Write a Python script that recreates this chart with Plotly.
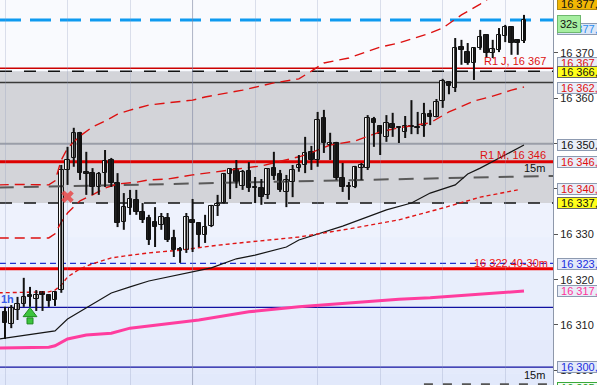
import plotly.graph_objects as go

# ---------------- data ----------------
opens = [16312.9, 16310.2, 16313.3, 16314.6, 16316.6, 16315.7, 16317.3, 16316.6, 16315.5, 16317.7,
         16344.2, 16346.85, 16352.4, 16343.7, 16343.5, 16340.45, 16343.5, 16346.4, 16341.3, 16332.7,
         16335.8, 16337.6, 16334.9, 16333.6, 16332.7, 16332.1, 16333.6, 16329.2, 16326.8, 16326.55,
         16333.2, 16332.5, 16329.9, 16331.8, 16336.3, 16336.9, 16343.3, 16344.4, 16340.7, 16344.0,
         16340.4, 16340.2, 16338.7, 16344.6, 16343.3, 16339.35, 16341.55, 16344.6, 16345.3, 16348.2,
         16346.4, 16355.7, 16349.7, 16350.15, 16342.4, 16340.55, 16340.45, 16344.6, 16344.6, 16355.45,
         16353.9, 16351.5, 16354.3, 16353.6, 16352.6, 16353.8, 16353.6, 16353.9, 16356.5, 16355.9,
         16359.4, 16363.6, 16362.3, 16371.3, 16370.2, 16367.8, 16371.1, 16374.0, 16370.0, 16370.7,
         16373.8, 16375.7, 16372.9, 16372.65]
highs = [16314.0, 16314.4, 16316.2, 16320.4, 16318.4, 16317.7, 16317.5, 16316.8, 16317.5, 16345.3,
         16349.3, 16353.5, 16352.6, 16348.2, 16344.6, 16343.75, 16348.6, 16346.85, 16343.5, 16339.1,
         16339.8, 16339.8, 16336.9, 16334.3, 16336.0, 16334.7, 16334.7, 16331.0, 16327.2, 16334.7,
         16337.8, 16332.7, 16334.3, 16336.5, 16338.7, 16343.5, 16344.6, 16346.4, 16344.2, 16345.96,
         16342.65, 16342.2, 16344.6, 16348.2, 16344.2, 16343.1, 16345.3, 16347.5, 16351.5, 16349.5,
         16357.0, 16357.45, 16352.4, 16350.4, 16345.75, 16341.55, 16345.1, 16345.75, 16356.3, 16355.9,
         16354.1, 16356.3, 16356.8, 16353.7, 16356.1, 16359.6, 16357.0, 16359.0, 16357.45, 16359.85,
         16364.3, 16363.8, 16373.3, 16372.9, 16372.2, 16371.2, 16375.1, 16374.1, 16372.9, 16375.5,
         16376.2, 16375.8, 16373.0, 16378.4]
lows = [16306.9, 16309.3, 16311.1, 16314.0, 16314.0, 16313.1, 16313.1, 16314.0, 16314.2, 16317.1,
        16340.9, 16344.9, 16342.0, 16338.7, 16338.7, 16338.7, 16340.45, 16340.45, 16331.6, 16331.0,
        16334.3, 16334.3, 16332.5, 16327.65, 16327.2, 16331.0, 16328.3, 16325.0, 16323.7, 16325.9,
        16326.1, 16327.2, 16328.1, 16331.6, 16334.05, 16336.8, 16337.8, 16340.2, 16339.8, 16339.35,
        16336.9, 16336.5, 16337.8, 16342.0, 16339.35, 16336.0, 16338.2, 16343.8, 16343.5, 16344.2,
        16344.9, 16347.95, 16346.4, 16342.0, 16339.35, 16337.6, 16340.2, 16342.0, 16344.2, 16349.3,
        16347.5, 16350.4, 16351.5, 16350.15, 16351.25, 16352.1, 16352.1, 16351.5, 16354.1, 16355.8,
        16357.9, 16360.9, 16361.4, 16367.4, 16367.4, 16364.05, 16370.7, 16368.9, 16368.9, 16370.2,
        16372.4, 16369.6, 16369.6, 16372.2]
closes = [16310.4, 16313.8, 16314.6, 16316.2, 16316.2, 16316.6, 16316.6, 16315.3, 16317.3, 16344.2,
          16346.4, 16352.4, 16343.5, 16343.3, 16340.45, 16343.3, 16346.2, 16341.3, 16332.5, 16336.0,
          16337.8, 16334.9, 16333.2, 16328.8, 16331.6, 16333.8, 16328.8, 16326.55, 16326.3, 16333.8,
          16332.5, 16329.9, 16331.6, 16336.3, 16336.7, 16343.3, 16344.4, 16341.55, 16343.75, 16340.2,
          16340.2, 16338.2, 16344.4, 16342.9, 16339.8, 16342.0, 16344.2, 16345.3, 16347.95, 16346.4,
          16355.2, 16350.15, 16350.15, 16342.4, 16340.45, 16340.35, 16344.9, 16345.3, 16355.7, 16354.6,
          16352.1, 16354.6, 16353.5, 16353.4, 16353.9, 16353.6, 16353.4, 16356.5, 16355.9, 16359.2,
          16363.8, 16362.7, 16371.1, 16370.7, 16367.8, 16371.1, 16373.5, 16370.0, 16370.9, 16374.0,
          16375.7, 16372.2, 16372.2, 16377.3]

# indicator curves (candle index, price)
upper_x = [-1, 2, 7, 8, 9, 10, 12, 14, 16, 18, 20, 23, 26, 30, 32, 38, 43, 47, 49, 51, 55, 60, 63, 68, 70, 73, 76, 78]
upper_y = [16340.9, 16341.0, 16340.9, 16341.8, 16346.4, 16349.0, 16351.7, 16353.7, 16355.0, 16356.5, 16357.4,
           16358.5, 16359.0, 16359.6, 16360.3, 16361.8, 16363.4, 16364.3, 16366.0, 16367.8, 16368.9, 16371.3,
           16372.2, 16374.4, 16375.5, 16378.4, 16380.8, 16382.6]
lower_x = [-1, 7, 8, 9, 10, 12, 14, 16, 18, 21, 23, 26, 30, 34, 36, 41, 47, 48, 52, 56, 60, 63, 68, 71, 75, 78, 81, 83]
lower_y = [16329.2, 16329.2, 16330.1, 16332.7, 16334.7, 16337.4, 16338.7, 16340.2, 16341.1, 16341.5, 16342.0,
           16342.2, 16343.1, 16343.8, 16344.2, 16345.1, 16347.1, 16347.5, 16349.7, 16350.6, 16352.6, 16353.5,
           16354.6, 16357.0, 16359.4, 16360.5, 16361.8, 16362.5]
mid_x = [-1, 7, 8, 9, 10, 12, 14, 17, 19, 23, 28, 34, 39, 45, 47, 55, 63, 70, 76, 82]
mid_y = [16317.1, 16317.3, 16317.7, 16318.8, 16320.6, 16322.4, 16323.5, 16324.8, 16325.2, 16325.9, 16326.5,
         16327.6, 16328.3, 16329.2, 16329.4, 16331.2, 16333.2, 16335.8, 16338.2, 16339.8]
ma_x = [-1, 8, 10, 13, 17, 20, 23, 33, 37, 40, 45, 47, 54, 61, 65, 68, 72, 74, 76, 83]
ma_y = [16306.9, 16308.7, 16311.3, 16313.75, 16317.06, 16318.4, 16319.7, 16322.6, 16324.6, 16325.4, 16327.2,
        16328.75, 16331.8, 16335.4, 16336.9, 16339.1, 16340.9, 16343.3, 16344.6, 16349.7]
pink_x = [-1, 7, 8, 10, 13, 17, 20, 23, 31, 39, 47, 55, 63, 68, 76, 83]
pink_y = [16304.9, 16305.1, 16305.4, 16306.9, 16307.8, 16308.2, 16309.3, 16309.8, 16311.1, 16312.9, 16314.0,
          16314.85, 16315.7, 16316.0, 16316.8, 16317.5]
trend15_x = [-1, 88]
trend15_y = [16340.3, 16342.9]

# horizontal levels
zone_top, zone_bottom = 16366.0, 16336.9
levels = [16377.3, 16366.65, 16366.0, 16363.5, 16350.0, 16346.0, 16336.9, 16323.6, 16322.4, 16313.9, 16300.7]
bottom_dash_level = 16296.9

# signals
cross_x, cross_y = [10], [16338.3]
arrow_x, arrow_head_y, arrow_stem_y = [4], [16312.5], [16310.9]

# right-side price labels
price_labels = [
    (16380.8, "16 377,50", "#111111", "#f2b705", "#b08a10"),
    (16375.3, "16 377,00", "#2b8ff0", "#dbe6f7", "#8d9ab0"),
    (16367.9, "16 367,00", "#e01010", "#e9eef8", "#8d9ab0"),
    (16365.7, "16 366,00", "#111111", "#ffff1a", "#666666"),
    (16362.3, "16 362,50", "#e01010", "#e9eef8", "#8d9ab0"),
    (16349.8, "16 350,00", "#111111", "#e9eef8", "#8d9ab0"),
    (16346.0, "16 346,00", "#e01010", "#e9eef8", "#8d9ab0"),
    (16339.9, "16 340,00", "#e01010", "#e9eef8", "#8d9ab0"),
    (16336.9, "16 337,00", "#111111", "#ffff1a", "#666666"),
    (16323.5, "16 323,60", "#1a2ee0", "#e3e9f8", "#8d9ab0"),
    (16317.4, "16 317,50", "#ff3399", "#e9eef8", "#8d9ab0"),
    (16300.7, "16 300,70", "#1a2ee0", "#e3e9f8", "#8d9ab0"),
    (16296.2, "16 295,00", "#1a9a1a", "#f2fbf2", "#3aaa3a"),
]
tick_vals = [16300, 16310, 16320, 16330, 16340, 16350, 16360, 16370]
tick_text = ["16 300", "16 310", "16 320", "16 330", "16 340", "16 350", "16 360", "16 370"]

# ---------------- figure ----------------
YMIN, YMAX = 16296.76, 16381.69
XMIN, XMAX = -0.8, 87.64
FONT = "Liberation Sans, Arial, sans-serif"

fig = go.Figure()

idx = list(range(len(opens)))
# indicator lines
fig.add_trace(go.Scatter(x=pink_x, y=pink_y, mode="lines",
                         line=dict(color="#ff3d9e", width=3)))
fig.add_trace(go.Scatter(x=trend15_x, y=trend15_y, mode="lines",
                         line=dict(color="#5a5a5a", width=2, dash="15px,10px")))
fig.add_trace(go.Scatter(x=ma_x, y=ma_y, mode="lines", line=dict(color="#151515", width=1.2)))
fig.add_trace(go.Scatter(x=mid_x, y=mid_y, mode="lines",
                         line=dict(color="#e01515", width=1.4, dash="4px,3px")))
fig.add_trace(go.Scatter(x=upper_x, y=upper_y, mode="lines",
                         line=dict(color="#dd1111", width=1.4, dash="10px,6px")))
fig.add_trace(go.Scatter(x=lower_x, y=lower_y, mode="lines",
                         line=dict(color="#dd1111", width=1.4, dash="10px,6px")))

# wicks
wx, wy = [], []
for i, (h, l) in enumerate(zip(highs, lows)):
    wx += [i, i, None]
    wy += [l, h, None]
fig.add_trace(go.Scatter(x=wx, y=wy, mode="lines", line=dict(color="#111111", width=2)))

# bodies
base = [min(o, c) for o, c in zip(opens, closes)]
height = [max(abs(c - o), 0.22) for o, c in zip(opens, closes)]
colors = ["#ffffff" if c >= o else "#222222" for o, c in zip(opens, closes)]
fig.add_trace(go.Bar(x=idx, y=height, base=base, width=0.72,
                     marker=dict(color=colors, line=dict(color="#111111", width=1))))

# signals
fig.add_trace(go.Scatter(x=cross_x, y=cross_y, mode="markers",
                         marker=dict(symbol="x", size=11, color="rgba(232,72,72,0.85)",
                                     line=dict(width=0))))
fig.add_trace(go.Scatter(x=arrow_x, y=arrow_stem_y, mode="markers",
                         marker=dict(symbol="square", size=6, color="#3dc43d",
                                     line=dict(color="#1e8a1e", width=1))))
fig.add_trace(go.Scatter(x=arrow_x, y=arrow_head_y, mode="markers",
                         marker=dict(symbol="triangle-up", size=12, color="#3dc43d",
                                     line=dict(color="#1e8a1e", width=1))))

shapes = []
# backgrounds
shapes.append(dict(type="rect", xref="paper", x0=0, x1=1, yref="y", y0=zone_top, y1=YMAX + 5,
                   fillcolor="#f9fafe", line=dict(width=0), layer="below"))
shapes.append(dict(type="rect", xref="paper", x0=0, x1=1, yref="y", y0=zone_bottom, y1=zone_top,
                   fillcolor="#d3d4d9", line=dict(width=0), layer="below"))
grad = ["#eef2fd", "#ebf0fd", "#e8eefc", "#e6ecfc", "#e4eafb", "#e2e9fb"]
step = (zone_bottom - (YMIN - 5)) / len(grad)
for k, col in enumerate(grad):
    shapes.append(dict(type="rect", xref="paper", x0=0, x1=1, yref="y",
                       y0=zone_bottom - step * (k + 1), y1=zone_bottom - step * k,
                       fillcolor=col, line=dict(width=0), layer="below"))

level_styles = [
    ("#0e9af0", 3, "21px,9px"),
    ("#cc0000", 1.5, "solid"),
    ("#111111", 1.5, "12px,12px"),
    ("#3a3a3a", 1.6, "solid"),
    ("#9a9ea8", 2, "solid"),
    ("#dd0000", 3, "solid"),
    ("#111111", 1.5, "12px,12px"),
    ("#2030d0", 1.2, "6px,4px"),
    ("#ee0000", 3, "solid"),
    ("#1010a0", 1.3, "solid"),
    ("#1010a0", 1.3, "solid"),
]
for lv, (col, w, d) in zip(levels, level_styles):
    shapes.append(dict(type="line", xref="paper", x0=0, x1=1, yref="y", y0=lv, y1=lv,
                       line=dict(color=col, width=w, dash=d), layer="between"))
shapes.append(dict(type="line", xref="x", x0=67, x1=XMAX, yref="y",
                   y0=bottom_dash_level, y1=bottom_dash_level,
                   line=dict(color="#555555", width=2, dash="9px,10px"), layer="between"))
shapes.append(dict(type="line", xref="x", x0=30, x1=30, yref="paper", y0=0, y1=1,
                   line=dict(color="rgba(120,125,145,0.45)", width=1), layer="between"))
fig.update_layout(shapes=shapes)

ann = []
def txt(x, y, s, color, anchor="right", size=11):
    ann.append(dict(xref="paper", yref="y", x=x, y=y, text=s, showarrow=False,
                    xanchor=anchor, yanchor="middle",
                    font=dict(family=FONT, size=size, color=color)))

txt(0.991, 16368.2, "R1 J, 16 367", "#dd1111")
txt(0.991, 16347.6, "R1 M, 16 346", "#dd1111")
txt(0.989, 16344.6, "15m", "#111111")
txt(0.995, 16323.7, "16 322,40-30m", "#ee1111")
txt(0.989, 16299.0, "15m", "#111111")
txt(-0.002, 16315.7, "<b>1h</b>", "#3a5ee8", anchor="left")

def frac(p):
    return (p - YMIN) / (YMAX - YMIN)

for p, s, fg, bg, bd in price_labels:
    ann.append(dict(xref="paper", yref="paper", x=557 / 553, y=frac(p), text="&nbsp;" + s,
                    showarrow=False, xanchor="left", yanchor="middle", align="left",
                    width=58, height=10, borderpad=0, borderwidth=1,
                    bgcolor=bg, bordercolor=bd,
                    font=dict(family=FONT, size=11, color=fg)))
# countdown box
ann.append(dict(xref="paper", yref="paper", x=557 / 553, y=frac(16376.5), text="32s",
                showarrow=False, xanchor="left", yanchor="middle", align="center",
                width=22, height=16, borderpad=0, borderwidth=1,
                bgcolor="#a6eea0", bordercolor="#6fb86f",
                font=dict(family=FONT, size=11, color="#111111")))
fig.update_layout(annotations=ann)

fig.update_layout(
    width=597, height=385,
    margin=dict(l=0, r=44, t=0, b=0),
    paper_bgcolor="#ffffff", plot_bgcolor="#eaf0fc",
    showlegend=False, bargap=0,
    font=dict(family=FONT, size=11, color="#222222"),
    xaxis=dict(range=[XMIN, XMAX], showticklabels=False, ticks="", showgrid=True,
               tick0=0, dtick=10, gridcolor="rgba(140,150,185,0.28)", gridwidth=1,
               zeroline=False, showline=False, fixedrange=True),
    yaxis=dict(range=[YMIN, YMAX], side="right", tickvals=tick_vals, ticktext=tick_text,
               ticks="outside", ticklen=4, tickcolor="#555555", showgrid=False,
               zeroline=False, showline=True, linecolor="#8e98aa", linewidth=1,
               tickfont=dict(family=FONT, size=11, color="#222222"), fixedrange=True),
)

fig.write_html("out.html", config={"displayModeBar": False},
               post_script="document.body.style.margin='0';document.body.style.overflow='hidden';")
